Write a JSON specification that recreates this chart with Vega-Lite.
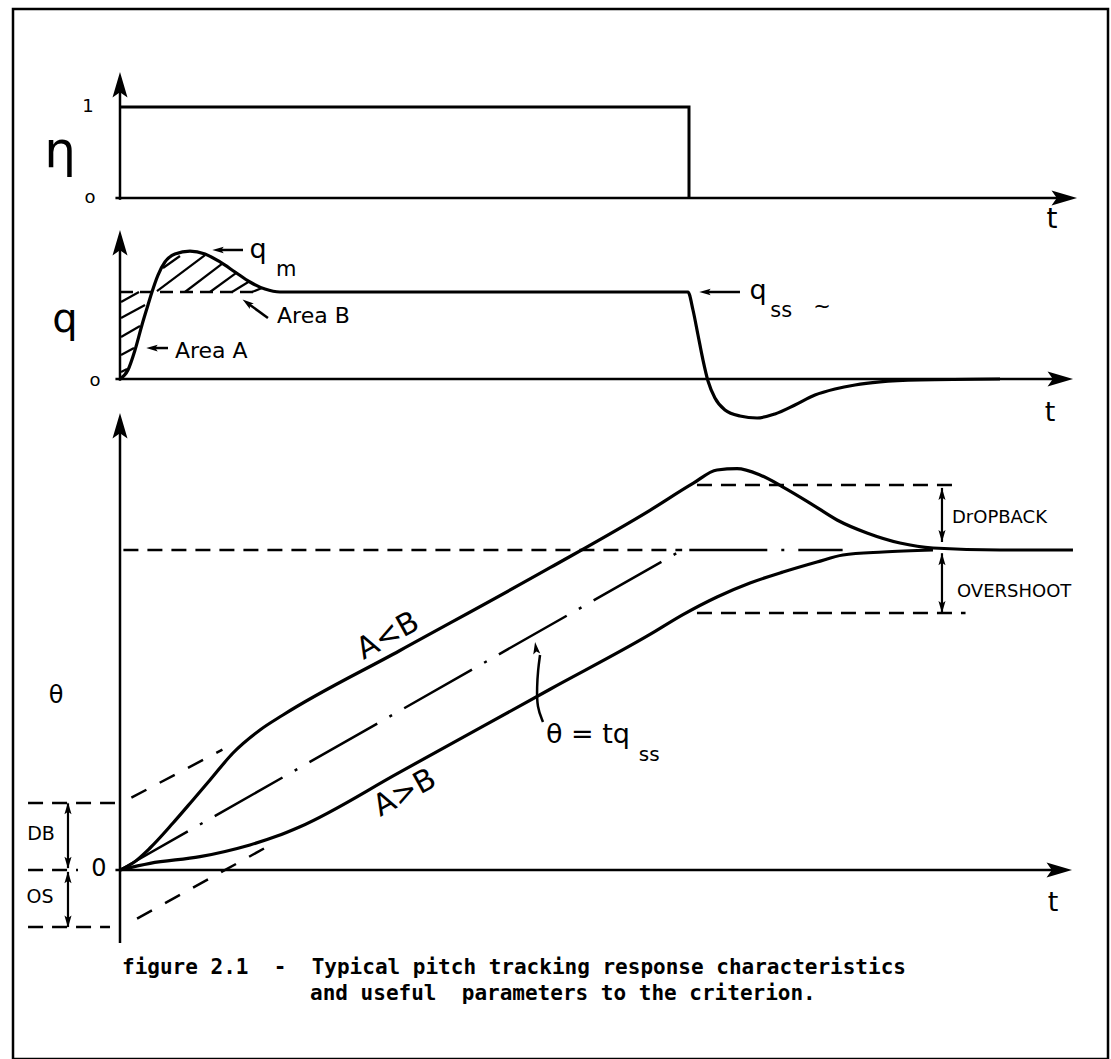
{
  "$schema": "https://vega.github.io/schema/vega-lite/v6.json",
  "width": 1111,
  "height": 1059,
  "autosize": {"type": "fit", "contains": "padding"},
  "padding": {"left": 13, "top": 9, "right": 3, "bottom": 0},
  "background": "white",
  "config": {"view": {"stroke": "black", "strokeWidth": 2.5}},
  "resolve": {"scale": {"y": "independent"}},
  "layer": [
    {
      "encoding": {
        "x": {"field": "t", "type": "quantitative", "scale": {"domain": [-0.9402, 8.6819], "nice": false, "zero": false}, "axis": null},
        "y": {"field": "eta", "type": "quantitative", "scale": {"domain": [-9.4615, 2.0769], "nice": false, "zero": false}, "axis": null}
      },
      "layer": [
        {
          "data": {"values": [{"t": 0, "eta": -0.02, "t2": 0, "eta2": 1.3}, {"t": -0.04, "eta": 0, "t2": 8.28, "eta2": 0}]},
          "mark": {"type": "rule", "strokeWidth": 2.5, "color": "black"},
          "encoding": {"x2": {"field": "t2"}, "y2": {"field": "eta2"}}
        },
        {
          "data": {"values": [{"i": 0, "t": 0, "eta": 1}, {"i": 1, "t": 5, "eta": 1}, {"i": 2, "t": 5, "eta": 0}]},
          "mark": {"type": "line", "strokeWidth": 3, "color": "black"},
          "encoding": {"order": {"field": "i"}}
        },
        {
          "data": {"values": [{"t": 0, "eta": 1.22}]},
          "mark": {"type": "point", "shape": "M0,-1L0.5,0.7L0,0.35L-0.5,0.7Z", "size": 900, "filled": true, "color": "black", "opacity": 1}
        },
        {
          "data": {"values": [{"t": 8.278, "eta": 0}]},
          "mark": {"type": "point", "shape": "M0,-1L0.5,0.7L0,0.35L-0.5,0.7Z", "size": 900, "filled": true, "color": "black", "opacity": 1, "angle": 90}
        },
        {
          "data": {"values": [{"t": -0.527, "eta": 0.5, "label": "η"}]},
          "mark": {"type": "text", "font": "DejaVu Sans", "fontSize": 50, "baseline": "middle", "align": "center", "color": "black"},
          "encoding": {"text": {"field": "label"}}
        },
        {
          "data": {"values": [{"t": -0.281, "eta": 1.0, "label": "1"}, {"t": -0.264, "eta": 0, "label": "o"}]},
          "mark": {"type": "text", "font": "DejaVu Sans", "fontSize": 18, "baseline": "middle", "align": "center", "color": "black"},
          "encoding": {"text": {"field": "label"}}
        },
        {
          "data": {"values": [{"t": 8.19, "eta": -0.242, "label": "t"}]},
          "mark": {"type": "text", "font": "DejaVu Sans", "fontSize": 28, "baseline": "middle", "align": "center", "color": "black"},
          "encoding": {"text": {"field": "label"}}
        }
      ]
    },
    {
      "encoding": {
        "x": {"field": "t", "type": "quantitative", "scale": {"domain": [-0.9402, 8.6819], "nice": false, "zero": false}, "axis": null},
        "y": {"field": "q", "type": "quantitative", "scale": {"domain": [-7.8161, 4.2529], "nice": false, "zero": false}, "axis": null}
      },
      "layer": [
        {
          "data": {"values": [
            {"t": 0, "q": -0.02, "t2": 0, "q2": 1.6},
            {"t": -0.04, "q": 0, "t2": 8.25, "q2": 0},
            {"t": 0.87, "q": 1.483, "t2": 1.081, "q2": 1.483},
            {"t": 0.29, "q": 0.356, "t2": 0.422, "q2": 0.356},
            {"t": 5.149, "q": 1.0, "t2": 5.448, "q2": 1.0},
            {"t": 1.125, "q": 0.868, "t2": 1.3, "q2": 0.701}
          ]},
          "mark": {"type": "rule", "strokeWidth": 2.5, "color": "black"},
          "encoding": {"x2": {"field": "t2"}, "y2": {"field": "q2"}}
        },
        {
          "data": {"values": [
            {"t": 0.009, "q": 0.885, "t2": 0.167, "q2": 1.0},
            {"t": 0.009, "q": 0.701, "t2": 0.22, "q2": 0.851},
            {"t": 0.009, "q": 0.483, "t2": 0.176, "q2": 0.609},
            {"t": 0.009, "q": 0.276, "t2": 0.123, "q2": 0.356},
            {"t": 0.009, "q": 0.08, "t2": 0.062, "q2": 0.115},
            {"t": 0.378, "q": 1.276, "t2": 0.527, "q2": 1.414},
            {"t": 0.325, "q": 1.011, "t2": 0.747, "q2": 1.425},
            {"t": 0.571, "q": 1.0, "t2": 0.896, "q2": 1.322},
            {"t": 0.791, "q": 1.0, "t2": 1.019, "q2": 1.218},
            {"t": 0.984, "q": 1.0, "t2": 1.142, "q2": 1.126},
            {"t": 1.16, "q": 1.0, "t2": 1.248, "q2": 1.046}
          ]},
          "mark": {"type": "rule", "strokeWidth": 2.2, "color": "black"},
          "encoding": {"x2": {"field": "t2"}, "y2": {"field": "q2"}}
        },
        {
          "data": {"values": [{"i": 0, "t": 0, "q": 1.0}, {"i": 1, "t": 1.23, "q": 1.0}]},
          "mark": {"type": "line", "strokeWidth": 2.5, "color": "black", "strokeDash": [13, 7]},
          "encoding": {"order": {"field": "i"}}
        },
        {
          "data": {"values": [
            {"t": 0, "q": 0}, {"t": 0.07, "q": 0.103}, {"t": 0.132, "q": 0.333}, {"t": 0.193, "q": 0.621},
            {"t": 0.246, "q": 0.851}, {"t": 0.281, "q": 1.0}, {"t": 0.334, "q": 1.195}, {"t": 0.395, "q": 1.345},
            {"t": 0.483, "q": 1.437}, {"t": 0.615, "q": 1.471}, {"t": 0.747, "q": 1.437}, {"t": 0.879, "q": 1.345},
            {"t": 1.011, "q": 1.23}, {"t": 1.142, "q": 1.115}, {"t": 1.274, "q": 1.034}, {"t": 1.406, "q": 1.0},
            {"t": 4.991, "q": 1.0}, {"t": 5.035, "q": 0.793}, {"t": 5.079, "q": 0.506}, {"t": 5.123, "q": 0.218},
            {"t": 5.167, "q": -0.023}, {"t": 5.228, "q": -0.218}, {"t": 5.316, "q": -0.356}, {"t": 5.448, "q": -0.425},
            {"t": 5.598, "q": -0.448}, {"t": 5.756, "q": -0.402}, {"t": 5.931, "q": -0.299}, {"t": 6.107, "q": -0.184},
            {"t": 6.283, "q": -0.115}, {"t": 6.459, "q": -0.069}, {"t": 6.678, "q": -0.034}, {"t": 7.03, "q": -0.011},
            {"t": 7.733, "q": 0}
          ]},
          "mark": {"type": "line", "strokeWidth": 3.2, "color": "black", "interpolate": "monotone"}
        },
        {
          "data": {"values": [{"t": 0, "q": 1.54}]},
          "mark": {"type": "point", "shape": "M0,-1L0.5,0.7L0,0.35L-0.5,0.7Z", "size": 900, "filled": true, "color": "black", "opacity": 1}
        },
        {
          "data": {"values": [{"t": 8.243, "q": 0}]},
          "mark": {"type": "point", "shape": "M0,-1L0.5,0.7L0,0.35L-0.5,0.7Z", "size": 900, "filled": true, "color": "black", "opacity": 1, "angle": 90}
        },
        {
          "data": {"values": [{"t": 0.87, "q": 1.483}, {"t": 0.29, "q": 0.356}, {"t": 5.149, "q": 1.0}]},
          "mark": {"type": "point", "shape": "M0,-1L0.5,0.7L0,0.35L-0.5,0.7Z", "size": 180, "filled": true, "color": "black", "opacity": 1, "angle": 270}
        },
        {
          "data": {"values": [{"t": 1.125, "q": 0.868}]},
          "mark": {"type": "point", "shape": "M0,-1L0.5,0.7L0,0.35L-0.5,0.7Z", "size": 180, "filled": true, "color": "black", "opacity": 1, "angle": 306}
        },
        {
          "data": {"values": [{"t": -0.483, "q": 0.678, "label": "q"}]},
          "mark": {"type": "text", "font": "DejaVu Sans", "fontSize": 40, "baseline": "middle", "align": "center", "color": "black"},
          "encoding": {"text": {"field": "label"}}
        },
        {
          "data": {"values": [{"t": -0.22, "q": -0.02, "label": "o"}]},
          "mark": {"type": "text", "font": "DejaVu Sans", "fontSize": 18, "baseline": "middle", "align": "center", "color": "black"},
          "encoding": {"text": {"field": "label"}}
        },
        {
          "data": {"values": [{"t": 1.213, "q": 1.483, "label": "q"}, {"t": 5.606, "q": 1.011, "label": "q"}, {"t": 8.172, "q": -0.391, "label": "t"}]},
          "mark": {"type": "text", "font": "DejaVu Sans", "fontSize": 27, "baseline": "middle", "align": "center", "color": "black"},
          "encoding": {"text": {"field": "label"}}
        },
        {
          "data": {"values": [{"t": 1.46, "q": 1.25, "label": "m"}, {"t": 5.81, "q": 0.78, "label": "ss"}, {"t": 6.169, "q": 0.828, "label": "~"}]},
          "mark": {"type": "text", "font": "DejaVu Sans", "fontSize": 21, "baseline": "middle", "align": "center", "color": "black"},
          "encoding": {"text": {"field": "label"}}
        },
        {
          "data": {"values": [{"t": 1.38, "q": 0.724, "label": "Area B"}, {"t": 0.483, "q": 0.322, "label": "Area A"}]},
          "mark": {"type": "text", "font": "DejaVu Sans", "fontSize": 22, "baseline": "middle", "align": "left", "color": "black"},
          "encoding": {"text": {"field": "label"}}
        }
      ]
    },
    {
      "encoding": {
        "x": {"field": "t", "type": "quantitative", "scale": {"domain": [-0.9402, 8.6819], "nice": false, "zero": false}, "axis": null},
        "y": {"field": "theta", "type": "quantitative", "scale": {"domain": [-2.9531, 13.4531], "nice": false, "zero": false}, "axis": null}
      },
      "layer": [
        {
          "data": {"values": [
            {"t": 0, "theta": -1.14, "t2": 0, "theta2": 6.95},
            {"t": -0.04, "theta": 0, "t2": 8.24, "theta2": 0}
          ]},
          "mark": {"type": "rule", "strokeWidth": 2.5, "color": "black"},
          "encoding": {"x2": {"field": "t2"}, "y2": {"field": "theta2"}}
        },
        {
          "data": {"values": [
            {"t": -0.457, "theta": 1.04, "t2": -0.457, "theta2": 0.03},
            {"t": -0.457, "theta": -0.03, "t2": -0.457, "theta2": -0.89},
            {"t": 7.223, "theta": 5.97, "t2": 7.223, "theta2": 5.125},
            {"t": 7.223, "theta": 4.95, "t2": 7.223, "theta2": 4.02}
          ]},
          "mark": {"type": "rule", "strokeWidth": 2.2, "color": "black"},
          "encoding": {"x2": {"field": "t2"}, "y2": {"field": "theta2"}}
        },
        {
          "data": {"values": [
            {"s": "steady", "i": 0, "t": 0.03, "theta": 5.0}, {"s": "steady", "i": 1, "t": 4.94, "theta": 5.0},
            {"s": "db", "i": 0, "t": -0.808, "theta": 1.047}, {"s": "db", "i": 1, "t": -0.044, "theta": 1.047},
            {"s": "zero", "i": 0, "t": -0.808, "theta": 0}, {"s": "zero", "i": 1, "t": -0.369, "theta": 0},
            {"s": "os", "i": 0, "t": -0.808, "theta": -0.891}, {"s": "os", "i": 1, "t": -0.088, "theta": -0.891},
            {"s": "dropback", "i": 0, "t": 5.07, "theta": 6.016}, {"s": "dropback", "i": 1, "t": 7.38, "theta": 6.016},
            {"s": "overshoot", "i": 0, "t": 5.07, "theta": 4.016}, {"s": "overshoot", "i": 1, "t": 7.43, "theta": 4.016}
          ]},
          "mark": {"type": "line", "strokeWidth": 2.5, "color": "black", "strokeDash": [15, 9]},
          "encoding": {"detail": {"field": "s"}, "order": {"field": "i"}}
        },
        {
          "data": {"values": [
            {"s": "upper", "i": 0, "t": 0.1, "theta": 1.13}, {"s": "upper", "i": 1, "t": 0.9, "theta": 1.88},
            {"s": "lower", "i": 0, "t": 0.15, "theta": -0.76}, {"s": "lower", "i": 1, "t": 1.3, "theta": 0.37}
          ]},
          "mark": {"type": "line", "strokeWidth": 2.5, "color": "black", "strokeDash": [17, 15]},
          "encoding": {"detail": {"field": "s"}, "order": {"field": "i"}}
        },
        {
          "data": {"values": [{"i": 0, "t": 0, "theta": 0}, {"i": 1, "t": 4.94, "theta": 5.0}, {"i": 2, "t": 6.35, "theta": 5.0}]},
          "mark": {"type": "line", "strokeWidth": 2.5, "color": "black", "strokeDash": [78, 14, 3, 14]},
          "encoding": {"order": {"field": "i"}}
        },
        {
          "data": {"values": [
            {"s": "A<B", "t": 0, "theta": 0}, {"s": "A<B", "t": 0.114, "theta": 0.109}, {"s": "A<B", "t": 0.264, "theta": 0.344},
            {"s": "A<B", "t": 0.466, "theta": 0.734}, {"s": "A<B", "t": 0.641, "theta": 1.094}, {"s": "A<B", "t": 0.791, "theta": 1.406},
            {"s": "A<B", "t": 0.993, "theta": 1.828}, {"s": "A<B", "t": 1.23, "theta": 2.188}, {"s": "A<B", "t": 1.432, "theta": 2.422},
            {"s": "A<B", "t": 2.46, "theta": 3.43}, {"s": "A<B", "t": 3.779, "theta": 4.723}, {"s": "A<B", "t": 4.657, "theta": 5.62},
            {"s": "A<B", "t": 5.035, "theta": 6.04}, {"s": "A<B", "t": 5.246, "theta": 6.25}, {"s": "A<B", "t": 5.422, "theta": 6.27},
            {"s": "A<B", "t": 5.624, "theta": 6.172}, {"s": "A<B", "t": 5.826, "theta": 5.984}, {"s": "A<B", "t": 6.063, "theta": 5.734},
            {"s": "A<B", "t": 6.301, "theta": 5.469}, {"s": "A<B", "t": 6.564, "theta": 5.266}, {"s": "A<B", "t": 6.854, "theta": 5.109},
            {"s": "A<B", "t": 7.144, "theta": 5.031}, {"s": "A<B", "t": 7.733, "theta": 5.0}, {"s": "A<B", "t": 8.374, "theta": 5.0},
            {"s": "A>B", "t": 0, "theta": 0}, {"s": "A>B", "t": 0.264, "theta": 0.104}, {"s": "A>B", "t": 0.703, "theta": 0.208},
            {"s": "A>B", "t": 0.923, "theta": 0.29}, {"s": "A>B", "t": 1.142, "theta": 0.391}, {"s": "A>B", "t": 1.38, "theta": 0.53},
            {"s": "A>B", "t": 1.582, "theta": 0.677}, {"s": "A>B", "t": 2.46, "theta": 1.53}, {"s": "A>B", "t": 3.779, "theta": 2.824},
            {"s": "A>B", "t": 4.657, "theta": 3.68}, {"s": "A>B", "t": 4.947, "theta": 3.99}, {"s": "A>B", "t": 5.246, "theta": 4.266},
            {"s": "A>B", "t": 5.536, "theta": 4.484}, {"s": "A>B", "t": 5.826, "theta": 4.656}, {"s": "A>B", "t": 6.125, "theta": 4.813},
            {"s": "A>B", "t": 6.353, "theta": 4.922}, {"s": "A>B", "t": 6.705, "theta": 4.969}, {"s": "A>B", "t": 7.144, "theta": 5.0}
          ]},
          "mark": {"type": "line", "strokeWidth": 3.2, "color": "black", "interpolate": "monotone"},
          "encoding": {"detail": {"field": "s"}}
        },
        {
          "data": {"values": [
            {"i": 0, "t": 3.717, "theta": 2.3125}, {"i": 1, "t": 3.664, "theta": 2.547}, {"i": 2, "t": 3.664, "theta": 2.859},
            {"i": 3, "t": 3.673, "theta": 3.125}, {"i": 4, "t": 3.691, "theta": 3.36}
          ]},
          "mark": {"type": "line", "strokeWidth": 2.5, "color": "black", "interpolate": "basis"},
          "encoding": {"order": {"field": "i"}}
        },
        {
          "data": {"values": [{"t": 0, "theta": 6.906}]},
          "mark": {"type": "point", "shape": "M0,-1L0.5,0.7L0,0.35L-0.5,0.7Z", "size": 900, "filled": true, "color": "black", "opacity": 1}
        },
        {
          "data": {"values": [{"t": 8.234, "theta": 0}]},
          "mark": {"type": "point", "shape": "M0,-1L0.5,0.7L0,0.35L-0.5,0.7Z", "size": 900, "filled": true, "color": "black", "opacity": 1, "angle": 90}
        },
        {
          "data": {"values": [{"t": -0.457, "theta": 0.95}, {"t": -0.457, "theta": -0.13}, {"t": 7.223, "theta": 5.86}, {"t": 7.223, "theta": 4.84}]},
          "mark": {"type": "point", "shape": "M0,-1L0.5,0.7L0,0.35L-0.5,0.7Z", "size": 200, "filled": true, "color": "black", "opacity": 1}
        },
        {
          "data": {"values": [{"t": -0.457, "theta": 0.13}, {"t": -0.457, "theta": -0.79}, {"t": 7.223, "theta": 5.235}, {"t": 7.223, "theta": 4.125}]},
          "mark": {"type": "point", "shape": "M0,-1L0.5,0.7L0,0.35L-0.5,0.7Z", "size": 200, "filled": true, "color": "black", "opacity": 1, "angle": 180}
        },
        {
          "data": {"values": [{"t": 3.656, "theta": 3.453}]},
          "mark": {"type": "point", "shape": "M0,-1L0.5,0.7L0,0.35L-0.5,0.7Z", "size": 200, "filled": true, "color": "black", "opacity": 1, "angle": 352}
        },
        {
          "data": {"values": [{"t": -0.562, "theta": 2.72, "label": "θ"}, {"t": -0.185, "theta": 0.016, "label": "0"}]},
          "mark": {"type": "text", "font": "DejaVu Sans", "fontSize": 24, "baseline": "middle", "align": "center", "color": "black"},
          "encoding": {"text": {"field": "label"}}
        },
        {
          "data": {"values": [{"t": -0.694, "theta": 0.5625, "label": "DB"}, {"t": -0.703, "theta": -0.422, "label": "OS"}]},
          "mark": {"type": "text", "font": "DejaVu Sans", "fontSize": 19, "baseline": "middle", "align": "center", "color": "black"},
          "encoding": {"text": {"field": "label"}}
        },
        {
          "data": {"values": [{"t": 7.311, "theta": 5.5, "label": "DrOPBACK"}, {"t": 7.355, "theta": 4.344, "label": "OVERSHOOT"}]},
          "mark": {"type": "text", "font": "DejaVu Sans", "fontSize": 18, "baseline": "middle", "align": "left", "color": "black"},
          "encoding": {"text": {"field": "label"}}
        },
        {
          "data": {"values": [{"t": 2.355, "theta": 3.656, "label": "A<B"}, {"t": 2.504, "theta": 1.203, "label": "A>B"}]},
          "mark": {"type": "text", "font": "DejaVu Sans", "fontSize": 30, "baseline": "middle", "align": "center", "color": "black", "angle": 331},
          "encoding": {"text": {"field": "label"}}
        },
        {
          "data": {"values": [{"t": 4.112, "theta": 2.109, "label": "θ = tq"}, {"t": 8.199, "theta": -0.516, "label": "t"}]},
          "mark": {"type": "text", "font": "DejaVu Sans", "fontSize": 27, "baseline": "middle", "align": "center", "color": "black"},
          "encoding": {"text": {"field": "label"}}
        },
        {
          "data": {"values": [{"t": 4.65, "theta": 1.8, "label": "ss"}]},
          "mark": {"type": "text", "font": "DejaVu Sans", "fontSize": 20, "baseline": "middle", "align": "center", "color": "black"},
          "encoding": {"text": {"field": "label"}}
        },
        {
          "data": {"values": [
            {"t": 0.018, "theta": -1.531, "label": "figure 2.1\u00a0\u00a0-\u00a0\u00a0Typical pitch tracking response characteristics"},
            {"t": 1.67, "theta": -1.9375, "label": "and useful\u00a0\u00a0parameters to the criterion."}
          ]},
          "mark": {"type": "text", "font": "DejaVu Sans Mono", "fontWeight": "bold", "fontSize": 21, "baseline": "middle", "align": "left", "color": "black"},
          "encoding": {"text": {"field": "label"}}
        }
      ]
    }
  ]
}
